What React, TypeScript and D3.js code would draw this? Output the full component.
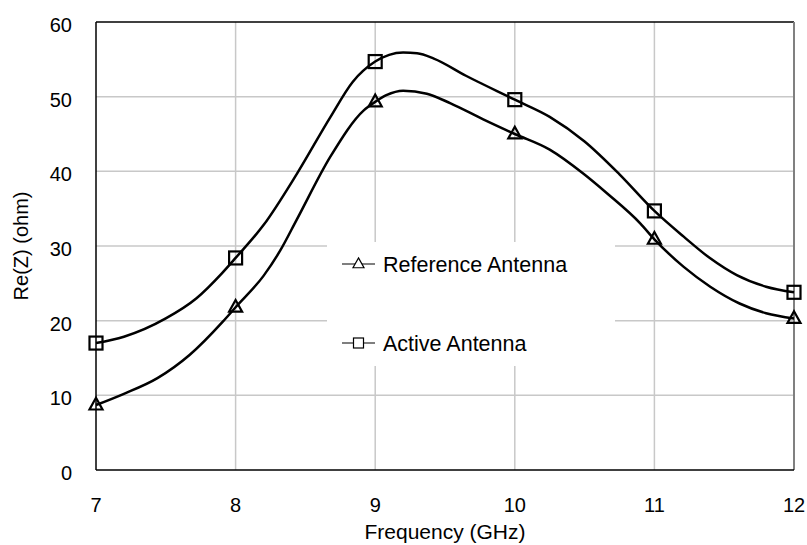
import React from "react";
import * as d3 from "d3";

const xTicks = [7, 8, 9, 10, 11, 12];
const yTicks = [0, 10, 20, 30, 40, 50, 60];

// Active antenna curve
const activeX = [7.0, 7.2, 7.5, 7.72, 7.9, 8.0, 8.2, 8.44, 8.68, 8.84, 9.0, 9.1, 9.2, 9.3, 9.42, 9.65, 10.0, 10.25, 10.5, 10.75, 11.0, 11.21, 11.4, 11.59, 11.8, 12.0];
const activeY = [17.0, 17.85, 20.3, 23.0, 26.3, 28.4, 32.8, 39.7, 47.3, 52.0, 54.7, 55.6, 55.9, 55.8, 55.1, 52.8, 49.6, 47.3, 44.0, 39.6, 34.7, 31.25, 28.35, 26.1, 24.55, 23.8];

// Reference antenna curve
const refX = [7.0, 7.2, 7.44, 7.67, 7.91, 8.0, 8.2, 8.32, 8.44, 8.68, 8.92, 9.0, 9.08, 9.2, 9.37, 9.54, 9.77, 10.0, 10.25, 10.49, 10.66, 10.9, 11.0, 11.21, 11.4, 11.61, 11.8, 12.0];
const refY = [8.7, 10.2, 12.3, 15.4, 19.9, 21.8, 26.0, 29.4, 33.6, 42.0, 48.2, 49.3, 50.2, 50.8, 50.4, 49.1, 47.0, 45.0, 42.9, 39.7, 37.06, 33.0, 30.9, 27.2, 24.55, 22.3, 21.0, 20.3];

const markerX = [7, 8, 9, 10, 11, 12];
const activeMarkers = [17.0, 28.4, 54.7, 49.6, 34.7, 23.8];
const refMarkers = [8.7, 21.8, 49.3, 45.0, 30.9, 20.3];

const legendLabels = ["Reference Antenna", "Active Antenna"];

const FONT = "'Liberation Sans', Arial, Helvetica, sans-serif";

export default function App() {
  const W = 807, H = 545;
  const x = d3.scaleLinear().domain([7, 12]).range([96, 794]);
  const y = d3.scaleLinear().domain([0, 60]).range([470, 22]);

  const line = d3
    .line<[number, number]>()
    .x((d) => x(d[0]))
    .y((d) => y(d[1]))
    .curve(d3.curveMonotoneX);

  const activePts: [number, number][] = activeX.map((v, i) => [v, activeY[i]]);
  const refPts: [number, number][] = refX.map((v, i) => [v, refY[i]]);

  const tri = (cx: number, cy: number, s: number) => {
    const h = s * 0.9;
    return `M${cx},${cy - h * 0.62}L${cx + s / 2},${cy + h * 0.38}L${cx - s / 2},${cy + h * 0.38}Z`;
  };

  return (
    <svg width={W} height={H} style={{ position: "absolute", left: 0, top: 0, background: "#fff" }} fontFamily={FONT}>
      <rect x={0} y={0} width={W} height={H} fill="#fff" />
      {/* grid */}
      {yTicks.filter((t) => t > 0 && t < 60).map((t) => (
        <line key={"gy" + t} x1={x(7)} x2={x(12)} y1={y(t)} y2={y(t)} stroke="#c8c8c8" strokeWidth={1.5} />
      ))}
      {xTicks.filter((t) => t > 7 && t < 12).map((t) => (
        <line key={"gx" + t} x1={x(t)} x2={x(t)} y1={y(0)} y2={y(60)} stroke="#c8c8c8" strokeWidth={1.5} />
      ))}
      {/* frame */}
      <line x1={x(7)} x2={x(12)} y1={y(60)} y2={y(60)} stroke="#000" strokeWidth={1.5} />
      <line x1={x(12)} x2={x(12)} y1={y(60)} y2={y(0)} stroke="#808080" strokeWidth={2} />
      <line x1={x(7)} x2={x(7)} y1={y(60)} y2={y(0)} stroke="#000" strokeWidth={1.5} />
      <line x1={x(7)} x2={x(12)} y1={y(0)} y2={y(0)} stroke="#000" strokeWidth={1.5} />

      {/* legend box */}
      <rect x={327} y={242} width={288} height={124} fill="#fff" />

      {/* lines */}
      <path d={line(refPts) || ""} fill="none" stroke="#000" strokeWidth={2.5} />
      <path d={line(activePts) || ""} fill="none" stroke="#000" strokeWidth={2.5} />

      {/* markers */}
      {markerX.map((mx, i) => (
        <rect key={"sq" + i} x={x(mx) - 6.5} y={y(activeMarkers[i]) - 6.5} width={13} height={13} fill="none" stroke="#000" strokeWidth={2.2} />
      ))}
      {markerX.map((mx, i) => (
        <path key={"tr" + i} d={tri(x(mx), y(refMarkers[i]), 13)} fill="none" stroke="#000" strokeWidth={2.2} />
      ))}

      {/* legend entries */}
      <line x1={342} x2={375} y1={264} y2={264} stroke="#555" strokeWidth={1.5} />
      <path d={tri(358.5, 264, 11)} fill="#fff" stroke="#000" strokeWidth={1.2} />
      <text x={383} y={264} dy="0.35em" fontSize={21.5} fill="#000">{legendLabels[0]}</text>
      <line x1={342} x2={375} y1={343} y2={343} stroke="#555" strokeWidth={1.5} />
      <rect x={353.5} y={338} width={10} height={10} fill="#fff" stroke="#000" strokeWidth={1.2} />
      <text x={383} y={343} dy="0.35em" fontSize={21.5} fill="#000">{legendLabels[1]}</text>

      {/* y ticks */}
      {yTicks.map((t) => (
        <text key={"yt" + t} x={72} y={y(t) + 3} dy="0.35em" textAnchor="end" fontSize={20} fill="#000">{t}</text>
      ))}
      {/* x ticks */}
      {xTicks.map((t) => (
        <text key={"xt" + t} x={x(t)} y={512} textAnchor="middle" fontSize={20} fill="#000">{t}</text>
      ))}
      <text x={445} y={539} textAnchor="middle" fontSize={21} fill="#000">Frequency (GHz)</text>
      <text transform={`translate(28,246) rotate(-90)`} textAnchor="middle" fontSize={20} fill="#000">Re(Z) (ohm)</text>
    </svg>
  );
}
